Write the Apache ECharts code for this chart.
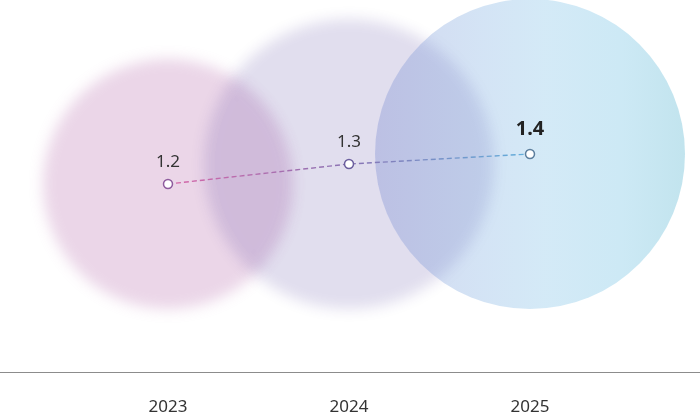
<!DOCTYPE html>
<html>
<head>
<meta charset="utf-8">
<script src="https://cdn.jsdelivr.net/npm/echarts@6/dist/echarts.min.js"></script>
<style>
html,body{margin:0;padding:0;background:#fff;}
#main{width:700px;height:417px;}
</style>
</head>
<body>
<div id="main"></div>
<script>
// ---- data ----
var years = ['2023', '2024', '2025'];
var values = [1.2, 1.3, 1.4];
// bubble radius (px-equivalent units on the hidden y axis)
var bubbleRadius = [125, 145, 155];

// ---- styles ----
var bubbleStyles = [
  { blur: 14, color: 'rgba(190,118,180,0.3)' },
  { blur: 14, color: 'rgba(52,35,140,0.15)' },
  { blur: 0, stops: [
      { offset: 0, color: 'rgba(105,125,205,0.3)' },
      { offset: 0.35, color: 'rgba(112,165,222,0.3)' },
      { offset: 0.55, color: 'rgba(112,185,228,0.3)' },
      { offset: 0.8, color: 'rgba(88,182,222,0.3)' },
      { offset: 1, color: 'rgba(52,165,198,0.3)' }
  ] }
];
var pointBorder = ['#8e5c9e', '#6b5f9e', '#5d7f9e'];
var OFF = 3000;

var chart = echarts.init(document.getElementById('main'));

var lineData = bubbleRadius.map(function (r, i) {
  var last = i === bubbleRadius.length - 1;
  return {
    value: r,
    itemStyle: { color: '#fff', borderColor: pointBorder[i], borderWidth: 1.5 },
    label: last ? { fontSize: 20, fontWeight: 'bold', color: '#222', distance: 9 } : {}
  };
});

chart.setOption({
  animation: false,
  grid: { left: 77.5, right: 79.5, top: 0, bottom: 45 },
  xAxis: {
    type: 'category',
    data: years,
    boundaryGap: true,
    axisLine: { show: false },
    axisTick: { show: false },
    axisLabel: { color: '#333', fontSize: 17, margin: 27, fontFamily: 'Noto Sans' },
    splitLine: { show: false }
  },
  yAxis: {
    type: 'value', min: -63, max: 309, show: false, splitLine: { show: false }
  },
  graphic: [{
    type: 'line', silent: true, z: 1,
    shape: { x1: 0, y1: 372.5, x2: 700, y2: 372.5 },
    style: { stroke: '#8c8c8c', lineWidth: 1 }
  }],
  series: [
    {
      type: 'custom',
      silent: true,
      clip: false,
      z: 1,
      data: bubbleRadius.map(function (r, i) { return [i, r]; }),
      renderItem: function (params, api) {
        var i = params.dataIndex;
        var c = api.coord([api.value(0), api.value(1)]);
        var r = api.size([0, api.value(1)])[1];
        var st = bubbleStyles[i];
        if (st.blur) {
          return {
            type: 'circle',
            shape: { cx: c[0] - OFF, cy: c[1], r: r },
            style: {
              fill: '#000',
              shadowColor: st.color,
              shadowBlur: st.blur,
              shadowOffsetX: OFF,
              shadowOffsetY: 0
            }
          };
        }
        return {
          type: 'circle',
          shape: { cx: c[0], cy: c[1], r: r },
          style: {
            fill: { type: 'linear', x: 0, y: 0, x2: 1, y2: 0, colorStops: st.stops }
          }
        };
      }
    },
    {
      type: 'line',
      z: 5,
      data: lineData,
      symbol: 'circle',
      symbolSize: 9,
      lineStyle: {
        width: 1.4,
        type: [5, 3],
        color: { type: 'linear', x: 0, y: 0, x2: 1, y2: 0, colorStops: [
          { offset: 0, color: '#d866a8' },
          { offset: 0.5, color: '#8a74b4' },
          { offset: 1, color: '#62b0dc' }
        ] }
      },
      label: {
        show: true,
        position: 'top',
        distance: 8,
        fontSize: 17,
        color: '#333',
        fontFamily: 'Noto Sans',
        formatter: function (p) { return String(values[p.dataIndex]); }
      },
      emphasis: { disabled: true }
    }
  ]
});
</script>
</body>
</html>
